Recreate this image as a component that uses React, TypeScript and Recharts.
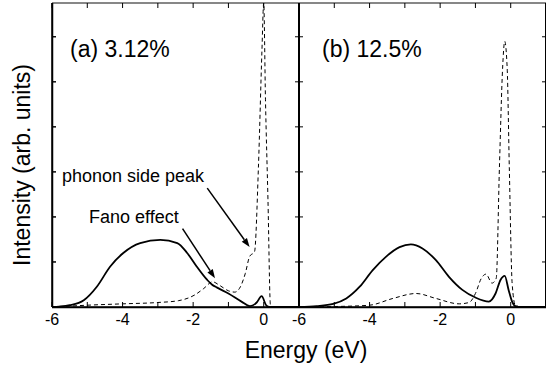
import { Line, LineChart, ReferenceLine, XAxis, YAxis } from "recharts";

// energy axis (eV) and intensity ticks (arb. units)
const energyTicks = [-6, -5, -4, -3, -2, -1, 0, 1];
const labeledTicks = [-6, -4, -2, 0];
const intensityTicks = [1, 2, 3, 4, 5, 6];

// (a) 3.12%
const aSolidE = [-6, -5.8, -5.5, -5.1, -4.73, -4.35, -3.98, -3.5, -2.93, -2.45, -2.17, -1.9, -1.6, -1.47, -1.32, -1.0, -0.63, -0.39, -0.2, -0.06, 0.08, 0.2, 1];
const aSolidI = [0, 0.01, 0.04, 0.15, 0.45, 0.9, 1.2, 1.42, 1.49, 1.42, 1.2, 0.9, 0.6, 0.5, 0.43, 0.3, 0.12, 0.02, 0.1, 0.24, 0.03, 0, 0];
const aDashE = [-6, -5.5, -5, -4, -3, -2.42, -1.95, -1.7, -1.45, -1.25, -1.0, -0.82, -0.66, -0.52, -0.4, -0.26, -0.15, -0.05, 0, 0.05, 0.12, 0.19, 0.25, 1];
const aDashI = [0, 0.02, 0.04, 0.07, 0.1, 0.14, 0.27, 0.41, 0.56, 0.48, 0.36, 0.33, 0.45, 0.75, 1.12, 1.23, 3.1, 5.7, 6.75, 4.6, 2.4, 0.05, 0, 0];

// (b) 12.5%
const bSolidE = [-6, -5.5, -5.03, -4.66, -4.28, -3.91, -3.53, -3.15, -2.83, -2.5, -2.12, -1.75, -1.37, -1.0, -0.62, -0.43, -0.29, -0.17, -0.06, 0.04, 0.13, 0.3, 1];
const bSolidI = [0, 0.02, 0.07, 0.19, 0.45, 0.82, 1.12, 1.33, 1.39, 1.3, 1.04, 0.67, 0.38, 0.21, 0.12, 0.3, 0.6, 0.69, 0.38, 0.12, 0.02, 0, 0];
const bDashE = [-6, -5, -4, -3.34, -2.68, -2.12, -1.46, -1.18, -1.0, -0.83, -0.7, -0.53, -0.41, -0.32, -0.23, -0.17, -0.1, -0.04, 0.04, 0.13, 0.3, 1];
const bDashI = [0, 0.01, 0.04, 0.19, 0.3, 0.19, 0.07, 0.1, 0.3, 0.64, 0.73, 0.53, 0.64, 3.1, 5.3, 5.9, 5.3, 3.1, 0.53, 0.04, 0, 0];

const FONT = "'Liberation Sans', Arial, Helvetica, sans-serif";
const PLOT_W = 247;
const PLOT_H = 304;
const Y_MAX = 6.75;
// axes take 1px each, so plot spans x 52..299 and y 3..307 on the page
const M = { top: 3, left: 9, right: 10, bottom: 59 };
const PANEL_LEFT = [42, 289];
const PLOT_X0 = PANEL_LEFT.map((l) => l + M.left + 1);
const PLOT_Y0 = M.top;
const PLOT_BOTTOM = PLOT_Y0 + PLOT_H;

const zip = (es: number[], is: number[]) => es.map((e, i) => ({ e, v: is[i] }));

// tick labels plus mirrored inward ticks on the top edge
function BottomTick({ x, y, payload }: any) {
  const v = payload.value;
  return (
    <g>
      <line x1={x} y1={y - PLOT_H} x2={x} y2={y - PLOT_H + 5} stroke="#000" />
      {labeledTicks.includes(v) && (
        <text x={x} y={y + 18} textAnchor="middle" fontSize={16} fontFamily={FONT} fill="#000">
          {v}
        </text>
      )}
    </g>
  );
}
const LeftTick = ({ x, y }: any) => (
  <g>
    <line x1={x} y1={y} x2={x + 4} y2={y} stroke="#000" />
    <line x1={x + PLOT_W} y1={y} x2={x + PLOT_W - 4} y2={y} stroke="#000" />
  </g>
);

function Arrow(props: any) {
  const { x1, y1, x2, y2 } = props;
  const ang = Math.atan2(y2 - y1, x2 - x1);
  const L = 9;
  const W = 3.2;
  const bx = x2 - L * Math.cos(ang);
  const by = y2 - L * Math.sin(ang);
  const px = -Math.sin(ang) * W;
  const py = Math.cos(ang) * W;
  return (
    <g>
      <line x1={x1} y1={y1} x2={bx} y2={by} stroke="#000" strokeWidth={1.5} />
      <polygon points={`${x2},${y2} ${bx + px},${by + py} ${bx - px},${by - py}`} fill="#000" />
    </g>
  );
}

function Panel({
  solid,
  dashed,
  left,
  children,
}: {
  solid: { e: number; v: number }[];
  dashed: { e: number; v: number }[];
  left: number;
  children?: React.ReactNode;
}) {
  return (
    <div style={{ position: "absolute", left, top: 0 }}>
      <LineChart width={M.left + 1 + PLOT_W + M.right} height={367} margin={M}>
        <XAxis
          xAxisId="b"
          type="number"
          dataKey="e"
          domain={[-6, 1]}
          ticks={energyTicks}
          interval={0}
          height={1}
          tickSize={0}
          tickMargin={0}
          tickLine={false}
          tick={BottomTick}
          axisLine={{ stroke: "#000", strokeWidth: 1.5 }}
          allowDataOverflow
        />
        <YAxis
          yAxisId="l"
          type="number"
          domain={[0, Y_MAX]}
          ticks={intensityTicks}
          interval={0}
          width={1}
          tickSize={0}
          tickMargin={0}
          tickLine={false}
          tick={LeftTick}
          axisLine={{ stroke: "#000", strokeWidth: 1.5 }}
          allowDataOverflow
        />
        {/* frame: top and right edges */}
        <ReferenceLine xAxisId="b" yAxisId="l" y={Y_MAX} stroke="#111" strokeWidth={1.2} ifOverflow="visible" />
        <ReferenceLine xAxisId="b" yAxisId="l" x={1} stroke="#000" strokeWidth={2} ifOverflow="visible" />
        <Line
          xAxisId="b"
          yAxisId="l"
          data={dashed}
          dataKey="v"
          type="monotone"
          stroke="#000"
          fill="none"
          strokeWidth={1}
          strokeDasharray="4 3"
          dot={false}
          isAnimationActive={false}
        />
        <Line
          xAxisId="b"
          yAxisId="l"
          data={solid}
          dataKey="v"
          type="monotone"
          stroke="#000"
          fill="none"
          strokeWidth={1.8}
          dot={false}
          isAnimationActive={false}
        />
        {children}
      </LineChart>
    </div>
  );
}

export default function App() {
  const sx = (x0: number, e: number) => x0 + ((e + 6) / 7) * PLOT_W;
  const sy = (v: number) => PLOT_BOTTOM - (v / Y_MAX) * PLOT_H;
  return (
    <div
      style={{
        position: "absolute",
        left: 0,
        top: 0,
        width: 546,
        height: 367,
        overflow: "hidden",
        background: "#fff",
      }}
    >
      <Panel solid={zip(aSolidE, aSolidI)} dashed={zip(aDashE, aDashI)} left={PANEL_LEFT[0]}>
        <ReferenceLine
          xAxisId="b"
          yAxisId="l"
          segment={[{ x: -1.6, y: 2.64 }, { x: -0.4, y: 1.33 }]}
          shape={Arrow}
          ifOverflow="visible"
        />
        <ReferenceLine
          xAxisId="b"
          yAxisId="l"
          segment={[{ x: -2.3, y: 1.74 }, { x: -1.38, y: 0.64 }]}
          shape={Arrow}
          ifOverflow="visible"
        />
      </Panel>
      <Panel solid={zip(bSolidE, bSolidI)} dashed={zip(bDashE, bDashI)} left={PANEL_LEFT[1]} />
      {/* top layer: bottom/left frame edges, inward ticks, and all captions */}
      <svg
        width={546}
        height={367}
        style={{ position: "absolute", left: 0, top: 0, pointerEvents: "none" }}
        fontFamily={FONT}
        fill="#000"
      >
        <line x1={PLOT_X0[0]} y1={PLOT_BOTTOM + 0.5} x2={546} y2={PLOT_BOTTOM + 0.5} stroke="#000" strokeWidth={1.5} />
        <line x1={PLOT_X0[0] + 0.5} y1={PLOT_Y0} x2={PLOT_X0[0] + 0.5} y2={PLOT_BOTTOM} stroke="#000" strokeWidth={1.5} />
        <line x1={PLOT_X0[1]} y1={PLOT_Y0} x2={PLOT_X0[1]} y2={PLOT_BOTTOM} stroke="#000" strokeWidth={2} />
        {PLOT_X0.map((x0) =>
          energyTicks.map((e) => (
            <line key={`${x0}-${e}`} x1={sx(x0, e)} y1={PLOT_BOTTOM} x2={sx(x0, e)} y2={PLOT_BOTTOM - 5} stroke="#000" />
          )),
        )}
        {intensityTicks.map((v) => (
          <line key={`l-${v}`} x1={PLOT_X0[0]} y1={sy(v)} x2={PLOT_X0[0] + 4} y2={sy(v)} stroke="#000" />
        ))}
        <text x={70} y={57} fontSize={23}>(a) 3.12%</text>
        <text x={322} y={57} fontSize={23}>(b) 12.5%</text>
        <text x={62} y={182} fontSize={18}>phonon side peak</text>
        <text x={89} y={223} fontSize={18}>Fano effect</text>
        <text x={306} y={358} fontSize={23} textAnchor="middle">Energy (eV)</text>
        <text x={30} y={165} fontSize={23} textAnchor="middle" transform="rotate(-90 30 165)">
          Intensity (arb. units)
        </text>
      </svg>
    </div>
  );
}
